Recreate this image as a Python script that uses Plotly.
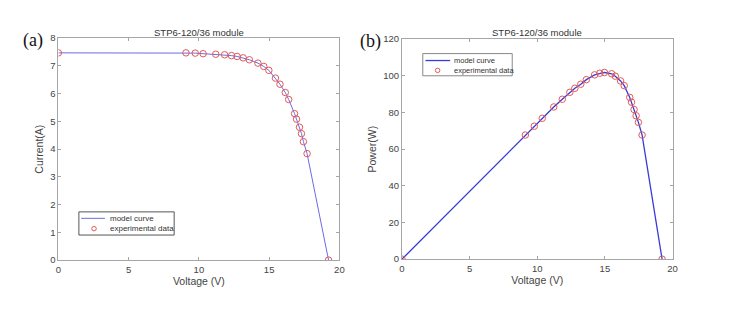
import plotly.graph_objects as go

# ---- data ----
voltage_iv = [0.0, 9.08, 9.74, 10.30, 11.20, 11.83, 12.32, 12.72, 13.15, 13.59, 14.20,
              14.62, 14.98, 15.45, 15.77, 16.15, 16.39, 16.81, 16.95, 17.16, 17.30,
              17.44, 17.70, 19.23]
current = [7.47, 7.47, 7.46, 7.44, 7.42, 7.40, 7.37, 7.34, 7.29, 7.22, 7.10,
           6.98, 6.84, 6.56, 6.34, 6.04, 5.79, 5.28, 5.08, 4.79, 4.56,
           4.27, 3.84, 0.0]

voltage_pv = [0.0, 9.12, 9.78, 10.37, 11.22, 11.85, 12.41, 12.78, 13.22, 13.63, 14.24,
              14.63, 14.97, 15.50, 15.77, 16.16, 16.43, 16.84, 16.97, 17.16, 17.31,
              17.48, 17.75, 19.23]
power = [0.0, 67.7, 72.5, 76.8, 83.0, 87.2, 91.0, 93.2, 95.4, 97.9, 100.5,
         101.4, 101.8, 101.1, 99.8, 97.2, 94.6, 88.2, 85.6, 81.6, 78.2,
         74.6, 67.7, 0.0]

title_text = "STP6-120/36 module"
legend_labels = ["model curve", "experimental data"]
x_ticks = [0, 5, 10, 15, 20]
i_ticks = [0, 1, 2, 3, 4, 5, 6, 7, 8]
p_ticks = [0, 20, 40, 60, 80, 100, 120]

W, H = 752, 316
LINE_A = "#6b6be6"
LINE_B = "#3a3ad8"
MARK = "#e05a5a"
AX = "#a6a6a6"
TXT = "#444444"
FONT = "Liberation Sans, Arial, sans-serif"
SERIF = "Liberation Serif, Times New Roman, serif"


def px(x):
    return x / W


def py(y):
    return 1 - y / H


fig = go.Figure()

# panel (a)
fig.add_trace(go.Scatter(x=voltage_iv, y=current, mode="lines", name=legend_labels[0],
                         line=dict(color=LINE_A, width=1), xaxis="x", yaxis="y"))
fig.add_trace(go.Scatter(x=voltage_iv, y=current, mode="markers", name=legend_labels[1],
                         marker=dict(symbol="circle-open", color=MARK, size=6.5,
                                     line=dict(width=1)),
                         xaxis="x", yaxis="y"))
# panel (b)
fig.add_trace(go.Scatter(x=voltage_pv, y=power, mode="lines", name=legend_labels[0],
                         line=dict(color=LINE_B, width=1.3), xaxis="x2", yaxis="y2"))
fig.add_trace(go.Scatter(x=voltage_pv, y=power, mode="markers", name=legend_labels[1],
                         marker=dict(symbol="circle-open", color=MARK, size=6.5,
                                     line=dict(width=1)),
                         xaxis="x2", yaxis="y2"))

axis_common = dict(showline=True, linecolor=AX, linewidth=1, mirror="ticks",
                   ticks="inside", ticklen=3, tickcolor=AX, showgrid=False,
                   zeroline=False, tickfont=dict(size=9.5, color=TXT, family=FONT),
                   title_font=dict(size=10.5, color=TXT, family=FONT))

fig.update_layout(
    width=W, height=H, margin=dict(l=0, r=0, t=0, b=0),
    paper_bgcolor="white", plot_bgcolor="white",
    font=dict(family=FONT, color=TXT),
    showlegend=False,
    xaxis=dict(domain=[px(56), px(340)], range=[0, 20], tickvals=x_ticks,
               title=dict(text="Voltage (V)", standoff=4), anchor="y", **axis_common),
    yaxis=dict(domain=[py(263.3), py(33.3)], range=[0, 8], tickvals=i_ticks,
               title=dict(text="Current(A)", standoff=4), anchor="x", **axis_common),
    xaxis2=dict(domain=[px(403.3), px(676.7)], range=[0, 20], tickvals=x_ticks,
                title=dict(text="Voltage (V)", standoff=4), anchor="y2", **axis_common),
    yaxis2=dict(domain=[py(262.3), py(34.3)], range=[0, 120], tickvals=p_ticks,
                title=dict(text="Power(W)", standoff=4), anchor="x2", **axis_common),
)

annotations = [
    dict(text=title_text, x=px((56 + 340) / 2), y=py(27)),
    dict(text=title_text, x=px((403.3 + 676.7) / 2), y=py(27)),
]
for a in annotations:
    a.update(xref="paper", yref="paper", showarrow=False, xanchor="center",
             yanchor="middle", font=dict(size=9.5, color="#333333", family=FONT))
annotations += [
    dict(text="(a)", x=px(30), y=py(36), xref="paper", yref="paper", showarrow=False,
         xanchor="center", yanchor="middle", font=dict(size=18, color="#111111", family=SERIF)),
    dict(text="(b)", x=px(371.5), y=py(37), xref="paper", yref="paper", showarrow=False,
         xanchor="center", yanchor="middle", font=dict(size=18, color="#111111", family=SERIF)),
]

shapes = []


def add_legend(box, line_seg, circ, text_x, rows, line_color, line_w, border, fsize):
    x0, y0, x1, y1 = box
    shapes.append(dict(type="rect", xref="paper", yref="paper", x0=px(x0), x1=px(x1),
                       y0=py(y1), y1=py(y0), line=dict(color=border, width=1),
                       fillcolor="white", layer="above"))
    shapes.append(dict(type="line", xref="paper", yref="paper", x0=px(line_seg[0]),
                       x1=px(line_seg[1]), y0=py(rows[0]), y1=py(rows[0]),
                       line=dict(color=line_color, width=line_w), layer="above"))
    r = 2.3
    shapes.append(dict(type="circle", xref="paper", yref="paper", x0=px(circ - r),
                       x1=px(circ + r), y0=py(rows[1] + r), y1=py(rows[1] - r),
                       line=dict(color=MARK, width=1), layer="above"))
    for lab, ry in zip(legend_labels, rows):
        annotations.append(dict(text=lab, x=px(text_x), y=py(ry), xref="paper", yref="paper",
                                showarrow=False, xanchor="left", yanchor="middle",
                                font=dict(size=fsize, color="#333333", family=FONT)))


add_legend((76.7, 213.3, 173, 237.3), (79, 103), 92, 106, (220, 230.7),
           LINE_A, 1, "#555555", 8)
add_legend((424.3, 49.3, 514.7, 72.3), (427, 452), 439.3, 453.5, (56.5, 66.7),
           LINE_B, 1.3, "#888888", 7.5)

fig.update_layout(annotations=annotations, shapes=shapes)

fig.write_html("out.html", config={"displayModeBar": False},
               post_script="document.body.style.margin='0';"
                           "document.documentElement.style.margin='0';"
                           "document.body.style.overflow='hidden';")
